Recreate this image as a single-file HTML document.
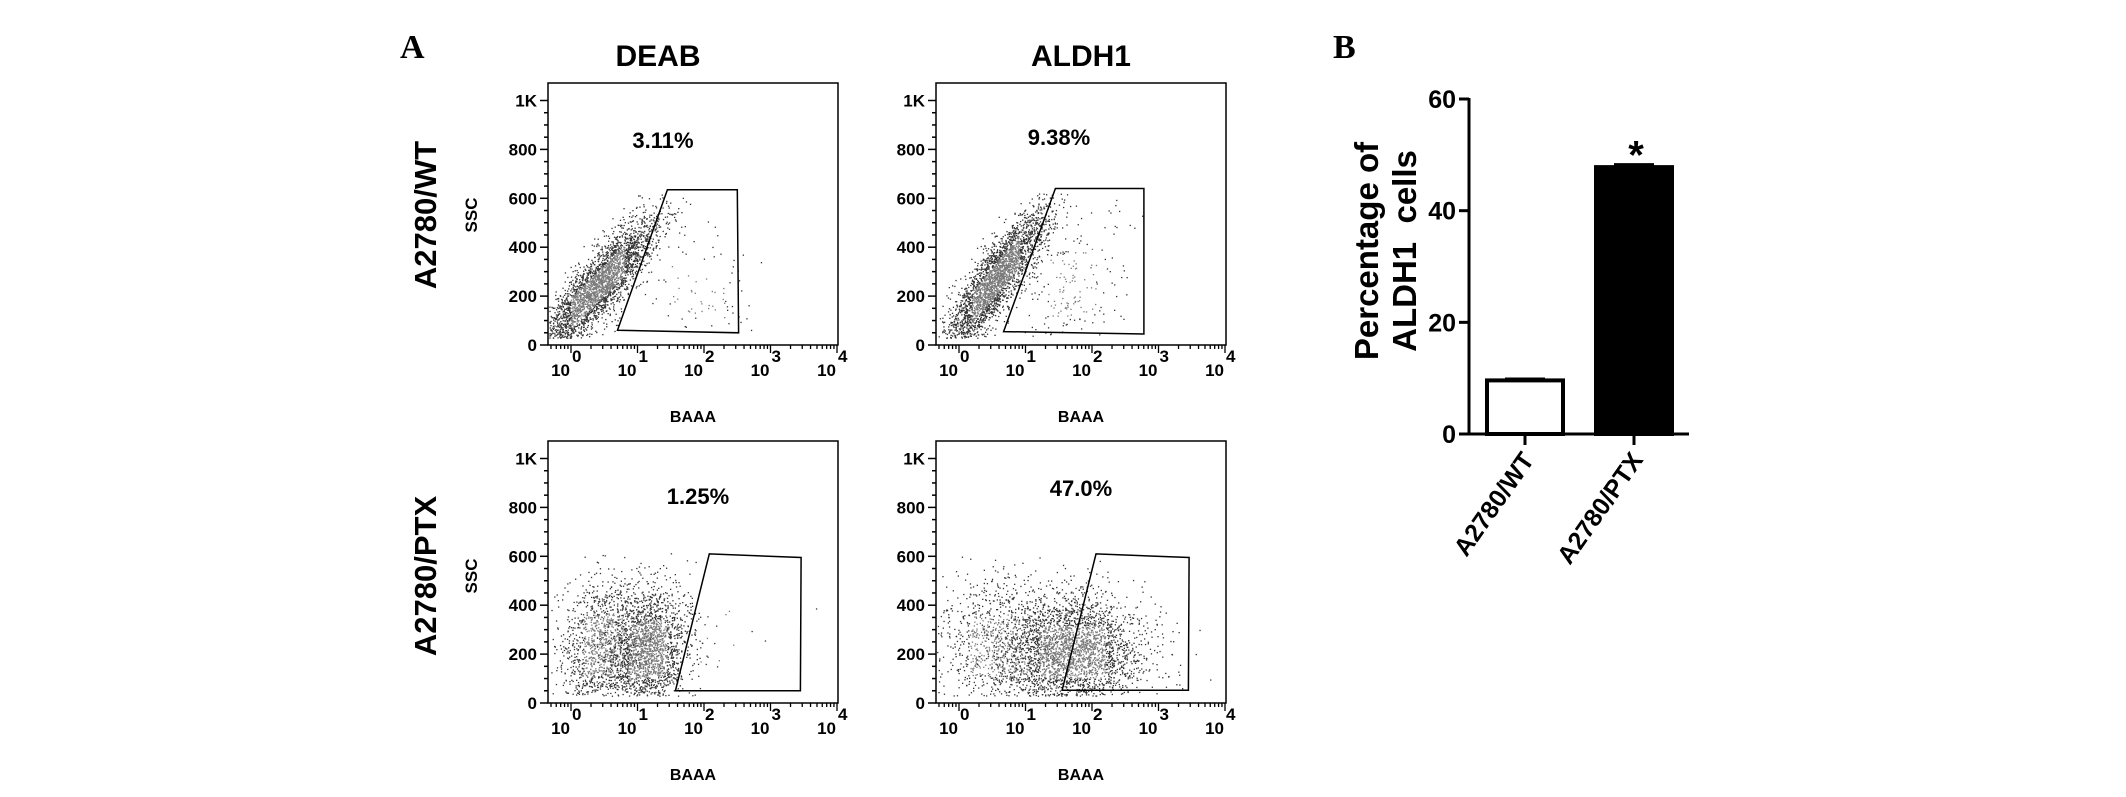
<!DOCTYPE html>
<html><head><meta charset="utf-8">
<style>
html,body{margin:0;padding:0;background:#fff;}
svg{display:block;}
text{font-family:"Liberation Sans",Arial,sans-serif;font-weight:bold;fill:#000;}
.serif{font-family:"Liberation Serif","Times New Roman",serif;}
</style></head>
<body>
<svg id="fig" width="2126" height="797" viewBox="0 0 2126 797" xmlns="http://www.w3.org/2000/svg">
  <text class="serif" x="400" y="58" font-size="34">A</text>
  <text class="serif" x="1333" y="58" font-size="34">B</text>
  <text x="658" y="66" font-size="30" text-anchor="middle">DEAB</text>
  <text x="1081" y="66" font-size="30" text-anchor="middle">ALDH1</text>
  <text transform="translate(436,215) rotate(-90)" font-size="31" text-anchor="middle">A2780/WT</text>
  <text transform="translate(436,576) rotate(-90)" font-size="31" text-anchor="middle">A2780/PTX</text>
  <text transform="translate(477,215) rotate(-90)" font-size="17" text-anchor="middle">SSC</text>
  <text transform="translate(477,576) rotate(-90)" font-size="17" text-anchor="middle">SSC</text>
  <g id="flow"></g>
  <g id="bars"></g>
</svg>
<script>
// ---------- Flow panel data ----------
const panelNames = ['deab-wt','aldh1-wt','deab-ptx','aldh1-ptx'];
const panelOrigins = [[548,83],[936,83],[548,441],[936,441]];
const percentLabels = ['3.11%','9.38%','1.25%','47.0%'];
const percentPos = [[663,148],[1059,145],[698,504],[1081,496]];
// gate vertices in data coords [log10 decade, SSC]
const gateWT_DEAB = [[0.7,60],[1.45,635],[2.5,635],[2.52,50]];
const gateWT_ALDH1 = [[0.67,55],[1.45,640],[2.78,640],[2.78,45]];
const gatePTX_DEAB = [[1.57,50],[2.08,610],[3.46,595],[3.45,50]];
const gatePTX_ALDH1 = [[1.55,52],[2.06,610],[3.46,595],[3.45,52]];
// clusters: [meanDecade, meanSSC, sdDecade, sdSSC, correlation, count]
const clustersWT_DEAB = [[0.4,240,0.45,140,0.86,3000],[1.9,220,0.45,120,0,80]];
const clustersWT_ALDH1 = [[0.55,270,0.4,150,0.87,2800],[1.7,250,0.4,150,0.2,200]];
const clustersPTX_DEAB = [[0.5,240,0.35,140,0.1,1300],[1.15,220,0.32,130,0.1,1900],[2.3,300,0.4,150,0,12]];
const clustersPTX_ALDH1 = [[0.6,240,0.5,140,0,1000],[1.7,210,0.55,120,0,2800]];
const yTickVals = [0,200,400,600,800,1000];
const yTickText = ['0','200','400','600','800','1K'];
const xDecades = [0,1,2,3,4];

const gates=[gateWT_DEAB,gateWT_ALDH1,gatePTX_DEAB,gatePTX_ALDH1];
const clusters=[clustersWT_DEAB,clustersWT_ALDH1,clustersPTX_DEAB,clustersPTX_ALDH1];
const NS='http://www.w3.org/2000/svg';
function mk(tag,attrs,parent){const e=document.createElementNS(NS,tag);for(const k in attrs)e.setAttribute(k,attrs[k]);parent.appendChild(e);return e;}
let seed=12345;
function rnd(){seed|=0;seed=seed+0x6D2B79F5|0;let t=Math.imul(seed^seed>>>15,1|seed);t=t+Math.imul(t^t>>>7,61|t)^t;return((t^t>>>14)>>>0)/4294967296;}
function gauss(){let u=rnd()||1e-9,v=rnd();return Math.sqrt(-2*Math.log(u))*Math.cos(2*Math.PI*v);}

const flow=document.getElementById('flow');
const W=290, H=262;
panelNames.forEach((nm,i)=>{
  const [ox,oy]=panelOrigins[i];
  const xS=d=>ox+23+66.5*d;
  const yS=v=>oy+H-v*0.2445;
  const g=mk('g',{},flow);
  
  
  const dg=mk('g',{},g);
  
  
  clusters[i].forEach(c=>{
    const [md,mv,sd,sv,r,n]=c;
    for(let k=0;k<n;k++){
      const a=gauss(),b=gauss();
      const d=md+sd*a, v=mv+sv*(r*a+Math.sqrt(1-r*r)*b);
      if(v<30||v>620||d<-0.33||d>3.9)continue;
      const dense=Math.abs(a)<0.9&&Math.abs(b)<0.9;
      mk('rect',{x:xS(d).toFixed(1),y:yS(v).toFixed(1),width:1.3,height:1.3,fill:dense?'#7a7a7a':'#333'},dg);
    }
  });
  const fr=mk('rect',{x:ox,y:oy,width:W,height:H,fill:'none',stroke:'#000','stroke-width':1.5},g);
  
  
  const gp=mk('polygon',{points:gates[i].map(p=>xS(p[0]).toFixed(1)+','+yS(p[1]).toFixed(1)).join(' '),fill:'none',stroke:'#000','stroke-width':1.5},g);
  
  
  const pt=mk('text',{x:percentPos[i][0],y:percentPos[i][1],'font-size':22,'text-anchor':'middle'},g);
  pt.textContent=percentLabels[i];
  
  
  const ya=mk('g',{},g);
  
  
  for(let v=0;v<=1000;v+=50){
    const major=v%200===0||v===1000;
    mk('line',{x1:ox-(major?8:4),x2:ox,y1:yS(v),y2:yS(v),stroke:'#000','stroke-width':1.5},ya);
  }
  yTickVals.forEach((v,j)=>{
    const t=mk('text',{x:ox-11,y:yS(v)+6,'font-size':17,'text-anchor':'end'},ya);
    t.textContent=yTickText[j];
  });
  const xa=mk('g',{},g);
  
  
  const by=oy+H;
  for(let d=-1;d<4;d++){
    for(let m=1;m<10;m++){
      const dd=d+Math.log10(m); if(dd<-0.33)continue;
      mk('line',{x1:xS(dd),x2:xS(dd),y1:by,y2:by+(m===1?8:4),stroke:'#000','stroke-width':1.3},xa);
    }
  }
  mk('line',{x1:xS(4),x2:xS(4),y1:by,y2:by+8,stroke:'#000','stroke-width':1.3},xa);
  xDecades.forEach(d=>{
    const t=mk('text',{x:xS(d)-1,y:by+31,'font-size':17,'text-anchor':'end'},xa);
    t.textContent='10';
    const e=mk('text',{x:xS(d)+1,y:by+17,'font-size':17},xa);
    e.textContent=String(d);
  });
  const xl=mk('text',{x:ox+145,y:by+77,'font-size':16,'text-anchor':'middle'},g);
  xl.textContent='BAAA';
  
  
});

// ---------- Bar chart ----------
const barCategories = ['A2780/WT','A2780/PTX'];
const barValues = [9.6,47.8];
const barErrors = [0.3,0.5];
const barTicks = [0,20,40,60];
const bars=document.getElementById('bars');
const y0=434, yTop=99, axX=1469;
const yB=v=>y0-(v/60)*(y0-yTop);
const barX=[1525,1634], barW=76;
const ax=mk('g',{},bars);


mk('line',{x1:axX,x2:axX,y1:yTop-1,y2:y0+1,stroke:'#000','stroke-width':3},ax);
barTicks.forEach(v=>{
  mk('line',{x1:axX-10,x2:axX,y1:yB(v),y2:yB(v),stroke:'#000','stroke-width':3},ax);
  const t=mk('text',{x:axX-13,y:yB(v)+9,'font-size':25,'text-anchor':'end'},ax);
  t.textContent=String(v);
});
const xax=mk('line',{x1:axX,x2:1689,y1:y0,y2:y0,stroke:'#000','stroke-width':3},bars);


barCategories.forEach((c,i)=>{
  const cx=barX[i];
  const r=mk('rect',{x:cx-barW/2,y:yB(barValues[i]),width:barW,height:y0-yB(barValues[i]),fill:i===0?'#fff':'#000',stroke:'#000','stroke-width':4},bars);
  
  
  const ey=yB(barValues[i]+barErrors[i]);
  mk('line',{x1:cx,x2:cx,y1:yB(barValues[i]),y2:ey,stroke:'#000','stroke-width':2},bars);
  mk('line',{x1:cx-20,x2:cx+20,y1:ey,y2:ey,stroke:'#000','stroke-width':2.5},bars);
  mk('line',{x1:cx,x2:cx,y1:y0,y2:y0+11,stroke:'#000','stroke-width':3},bars);
  const t=mk('text',{transform:`translate(${cx+10},${y0+26}) rotate(-55)`,'font-size':25,'text-anchor':'end'},bars);
  t.textContent=c;
  
  
});
const star=mk('text',{x:barX[1]+2,y:yB(barValues[1]+barErrors[1])+4,'font-size':40,'text-anchor':'middle'},bars);
star.textContent='*';


const yt1=mk('text',{transform:'translate(1378,251) rotate(-90)','font-size':33,'text-anchor':'middle'},bars);
yt1.textContent='Percentage of';


const yt2=mk('text',{transform:'translate(1416,251) rotate(-90)','font-size':33,'text-anchor':'middle'},bars);
yt2.textContent='ALDH1\u00a0 cells';


</script>
</body></html>
